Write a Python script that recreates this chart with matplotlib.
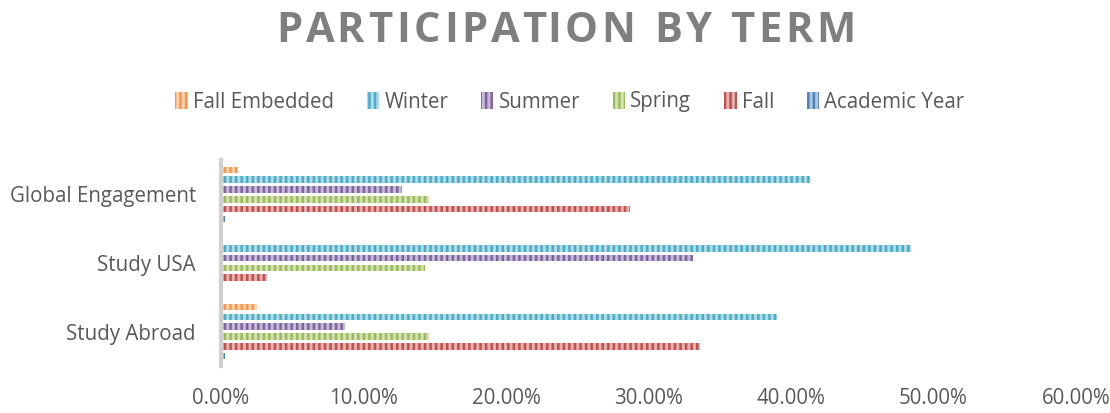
import matplotlib
matplotlib.use("Agg")
import matplotlib.pyplot as plt
from matplotlib.ticker import FuncFormatter
import numpy as np

categories = ["Study Abroad", "Study USA", "Global Engagement"]
series = ["Academic Year", "Fall", "Spring", "Summer", "Winter", "Fall Embedded"]
academic_year = [0.003, 0.0, 0.003]
fall = [0.336, 0.032, 0.287]
spring = [0.146, 0.143, 0.146]
summer = [0.087, 0.331, 0.127]
winter = [0.390, 0.484, 0.413]
fall_embedded = [0.025, 0.0, 0.012]
values = [academic_year, fall, spring, summer, winter, fall_embedded]
colors = ["#4F81BD", "#C0504D", "#9BBB59", "#8064A2", "#4BACC6", "#F79646"]
xticks = [0.0, 0.1, 0.2, 0.3, 0.4, 0.5, 0.6]
title = "PARTICIPATION BY TERM"

def lighten(c, f=0.5):
    rgb = np.array(matplotlib.colors.to_rgb(c))
    return tuple(rgb + (1 - rgb) * f)

plt.rcParams['font.family'] = ['Open Sans', 'DejaVu Sans']
plt.rcParams['hatch.linewidth'] = 1.8

W, H = 1110, 413
fig = plt.figure(figsize=(W / 100, H / 100), dpi=100)
ax = fig.add_axes([221/W, 1 - 366/H, (1076 - 221)/W, 206/H])

y = np.arange(len(categories))
step = 0.143
h = 0.095
n = len(series)
bars = []
for i, (name, vals, col) in enumerate(zip(series, values, colors)):
    off = (i - (n - 1) / 2) * step
    b = ax.barh(y + off, vals, height=h, color=lighten(col, 0.55), edgecolor=col,
                hatch='|||', linewidth=0, label=name)
    bars.append(b)

ax.set_xlim(0, 0.6)
ax.set_ylim(-0.5, 2.5)
ax.set_yticks(y)
ax.set_yticklabels(categories)
ax.set_xticks(xticks)
ax.xaxis.set_major_formatter(FuncFormatter(lambda v, p: f"{v*100:.2f}%"))
ax.tick_params(axis='both', length=0, labelsize=14.8, colors="#595959")
ax.tick_params(axis='x', pad=16)
ax.tick_params(axis='y', pad=18)
for s in ["top", "right", "bottom"]:
    ax.spines[s].set_visible(False)
ax.spines["left"].set_color("#D0D0D0")
ax.spines["left"].set_linewidth(3)

handles = bars[::-1]
labels = series[::-1]
leg = fig.legend(handles, labels, loc="center", bbox_to_anchor=(570/W, 1 - 102/H),
                 ncol=6, frameon=False, fontsize=14.8, handlelength=0.6, handleheight=0.9,
                 handletextpad=0.25, columnspacing=1.6, labelcolor="#595959")

# letter-spaced title
renderer = fig.canvas.get_renderer()
tkw = dict(fontsize=30, fontweight="bold", color="#7F7F7F", va="baseline", ha="left")

def tw(s):
    t = fig.text(0, 0, s, **tkw)
    w = t.get_window_extent(renderer).width
    t.remove()
    return w

bar_w = tw("|")
natural = [tw(title[:i] + "|") - bar_w for i in range(len(title) + 1)]
target_left, target_right = 276, 856
nat_width = tw(title)
extra = (target_right - target_left - nat_width) / (len(title) - 1)
for i, ch in enumerate(title):
    if ch == " ":
        continue
    x = target_left + natural[i] + extra * i
    fig.text(x / W, 1 - 42 / H, ch, **tkw)

fig.savefig("out.png", dpi=100)
